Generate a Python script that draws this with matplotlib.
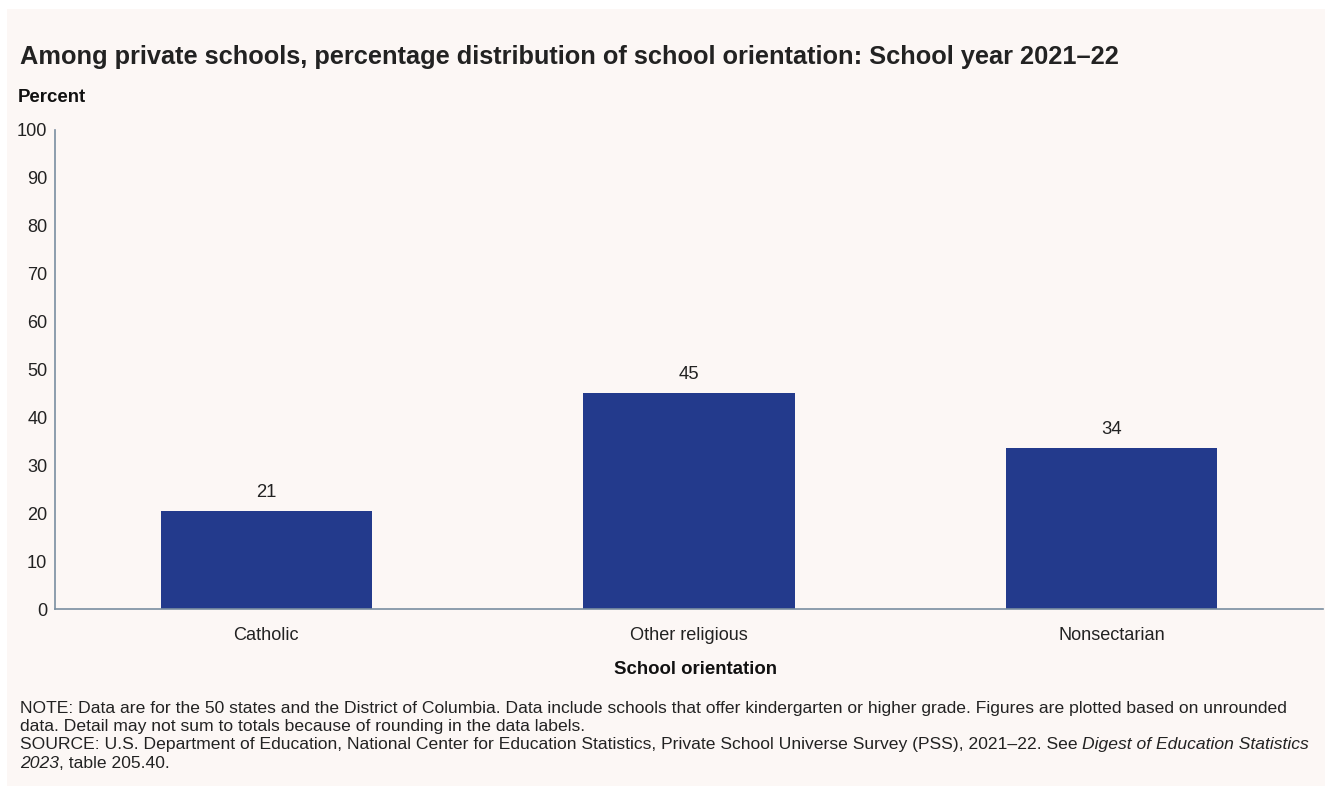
import matplotlib.pyplot as plt
from matplotlib.patches import Rectangle

plt.rcParams['font.family'] = ['Liberation Sans', 'DejaVu Sans']

categories = ['Catholic', 'Other religious', 'Nonsectarian']
values = [20.5, 45.1, 33.6]
labels = ['21', '45', '34']

bg = '#fcf7f5'
bar_color = '#233a8c'
spine_color = '#7a8ea0'

fig = plt.figure(figsize=(13.31, 7.89), dpi=100)
fig.patches.append(Rectangle((7 / 1331, 1 - 786 / 789), 1318 / 1331, 777 / 789,
                             transform=fig.transFigure, facecolor=bg, edgecolor='none', zorder=-10))

ax = fig.add_axes([55 / 1331, 1 - 609 / 789, 1268 / 1331, 479 / 789])
ax.set_facecolor('none')
x = range(len(categories))
ax.bar(x, values, width=0.5, color=bar_color)
for i, (v, lab) in enumerate(zip(values, labels)):
    ax.text(i, v + 2, lab, ha='center', va='bottom', fontsize=13.3, color='#222222')

ax.set_xlim(-0.5, 2.5)
ax.set_ylim(0, 100)
ax.set_yticks(range(0, 101, 10))
ax.set_xticks(list(x))
ax.set_xticklabels(categories)
ax.tick_params(axis='both', length=0, labelsize=13.1, colors='#222222')
ax.tick_params(axis='x', pad=13)
ax.tick_params(axis='y', pad=5.5)
for s in ['top', 'right']:
    ax.spines[s].set_visible(False)
for s in ['left', 'bottom']:
    ax.spines[s].set_color(spine_color)
    ax.spines[s].set_linewidth(1.2)

fig.text(20 / 1331, 1 - 57 / 789, 'Among private schools, percentage distribution of school orientation: School year 2021\u201322',
         fontsize=18.3, fontweight='bold', color='#222222', va='center')
fig.text(18 / 1331, 1 - 98 / 789, 'Percent', fontsize=13.4, fontweight='bold', color='#111111', va='center')
fig.text(695 / 1331, 1 - 670 / 789, 'School orientation', fontsize=13.4, fontweight='bold',
         color='#111111', ha='center', va='center')

fs = 12.6
lines = [
    (709, 'NOTE: Data are for the 50 states and the District of Columbia. Data include schools that offer kindergarten or higher grade. Figures are plotted based on unrounded'),
    (727, 'data. Detail may not sum to totals because of rounding in the data labels.'),
]
for y, t in lines:
    fig.text(20 / 1331, 1 - y / 789, t, fontsize=fs, color='#222222', va='center')

y3 = 1 - 745 / 789
t1 = fig.text(20 / 1331, y3, 'SOURCE: U.S. Department of Education, National Center for Education Statistics, Private School Universe Survey (PSS), 2021\u201322. See ',
              fontsize=fs, color='#222222', va='center')
fig.canvas.draw()
bb = t1.get_window_extent()
fig.text(bb.x1 / 1331, y3, 'Digest of Education Statistics', fontsize=fs, style='italic', color='#222222', va='center')

y4 = 1 - 763 / 789
t2 = fig.text(20 / 1331, y4, '2023', fontsize=fs, style='italic', color='#222222', va='center')
fig.canvas.draw()
bb2 = t2.get_window_extent()
fig.text(bb2.x1 / 1331, y4, ', table 205.40.', fontsize=fs, color='#222222', va='center')

fig.savefig('out.png', dpi=100)
